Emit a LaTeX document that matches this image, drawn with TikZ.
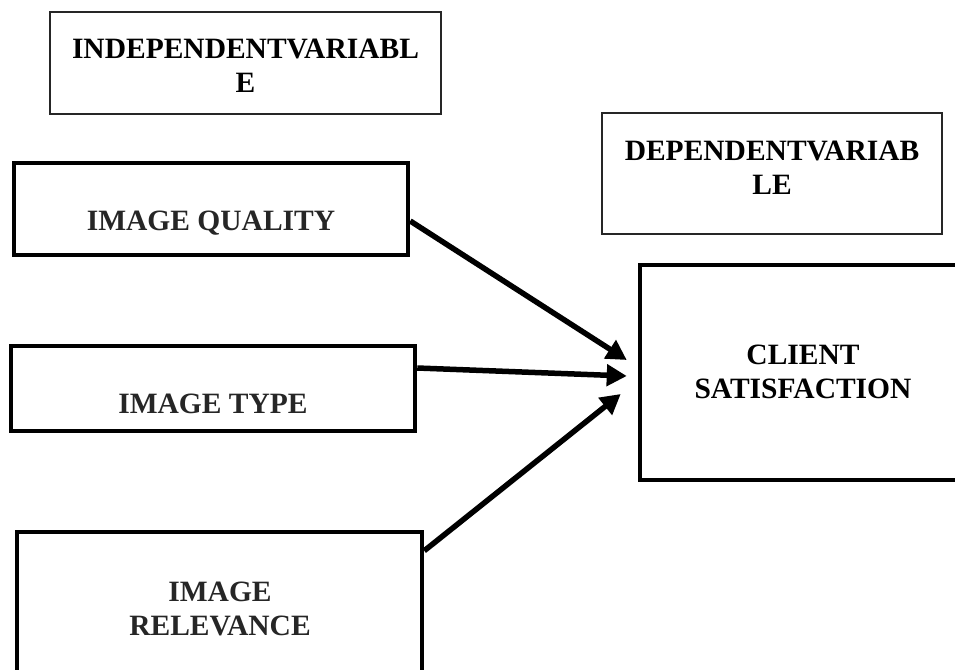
\documentclass[tikz,border=0pt]{standalone}
\usepackage{fontspec}
\setmainfont{Liberation Serif}
\usetikzlibrary{arrows.meta}
\tikzstyle{thinblock} = [rectangle, draw=black!85, line width=1.3pt, inner sep=0pt]
\tikzstyle{thickblock} = [rectangle, draw, line width=4.5pt, inner sep=0pt]
\tikzstyle{caption} = [align=center, inner sep=0pt, font=\fontsize{29.5}{34}\selectfont\bfseries]
\tikzstyle{link} = [line width=5.5pt, -{Triangle[length=20pt,width=21pt]}]

\begin{document}
\begin{tikzpicture}[x=1pt, y=-1pt]
   \clip (0,0) rectangle (955,669);
   \fill[white] (0,0) rectangle (955,669);
   % Place boxes
   \node [thinblock, minimum width=391pt, minimum height=102pt] (indep) at (245.5,63) {};
   \node [thinblock, minimum width=340pt, minimum height=121pt] (dep) at (772,173.5) {};
   \node [thickblock, minimum width=394pt, minimum height=92pt] (quality) at (211,209) {};
   \node [thickblock, minimum width=404pt, minimum height=85pt] (type) at (213,388.5) {};
   \node [thickblock, minimum width=405pt, minimum height=188pt] (relevance) at (219.5,626) {};
   \node [thickblock, minimum width=328pt, minimum height=215pt] (client) at (804,372.5) {};

   % Box texts
   \node [caption] (indep-t) at (245.5,65.5) {INDEPENDENTVARIABL\\E};
   \node [caption] (dep-t) at (772,167.5) {DEPENDENTVARIAB\\LE};
   \node [caption, text=black!85, anchor=base] (quality-t) at (211,230) {IMAGE QUALITY};
   \node [caption, text=black!85, anchor=base] (type-t) at (213,413) {IMAGE TYPE};
   \node [caption, text=black!85] (relevance-t) at (220,608.5) {IMAGE\\RELEVANCE};
   \node [caption] (client-t) at (803,371.5) {CLIENT\\SATISFACTION};

   % Arrows
   \draw[link] ([yshift=-12pt]quality.east) -- ([xshift=-11pt,yshift=12.5pt]client.west);
   \draw[link] ([yshift=20.5pt]type.east) -- ([xshift=-11pt,yshift=-3.5pt]client.west);
   \draw[link] ([yshift=-21pt]relevance.north east) -- ([xshift=-17pt,yshift=-21.5pt]client.west);
\end{tikzpicture}
\end{document}
